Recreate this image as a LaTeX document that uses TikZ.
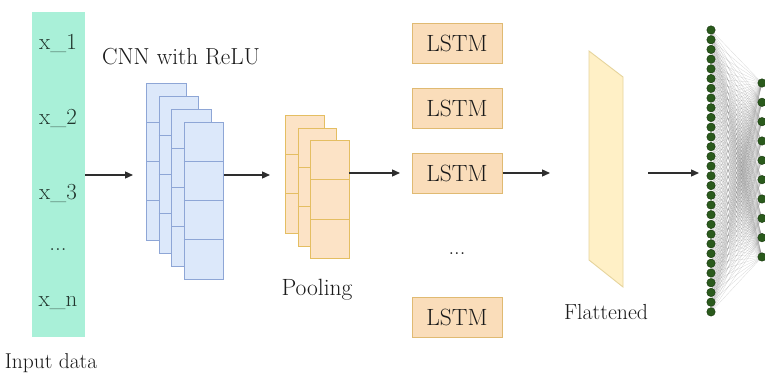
\documentclass[tikz,border=0pt]{standalone}
\usetikzlibrary{arrows.meta}
\definecolor{mint}{HTML}{A9F0D8}
\definecolor{xtext}{HTML}{22362E}
\definecolor{cnnfill}{HTML}{DCE8FA}
\definecolor{cnnline}{HTML}{8EA6D6}
\definecolor{poolfill}{HTML}{FCE3C6}
\definecolor{poolline}{HTML}{E4BE62}
\definecolor{lstmfill}{HTML}{FADDBA}
\definecolor{lstmline}{HTML}{E0BA72}
\definecolor{flatfill}{HTML}{FFF0C6}
\definecolor{flatline}{HTML}{E6D49C}
\definecolor{dotfill}{HTML}{2A5A1C}
\definecolor{dotline}{HTML}{16360C}
\definecolor{txt}{HTML}{1A1A1A}
\definecolor{arrowc}{HTML}{2E2E2E}
\newcommand{\fsz}[1]{\rmfamily\fontsize{#1}{#1}\selectfont}
\tikzset{
  lbl/.style={font=\fsz{22.5}, text=txt, inner sep=0pt},
  xl/.style={font=\fsz{23}, text=xtext, inner sep=0pt},
  inbox/.style={rectangle, fill=mint, draw=none, minimum width=53pt, minimum height=325pt, inner sep=0pt},
  cnnbox/.style={rectangle, fill=cnnfill, draw=cnnline, line width=0.9pt, minimum width=39.5pt, minimum height=157pt, inner sep=0pt, anchor=north west},
  poolbox/.style={rectangle, fill=poolfill, draw=poolline, line width=0.9pt, minimum width=38.5pt, minimum height=118pt, inner sep=0pt, anchor=north west},
  lstmbox/.style={rectangle, fill=lstmfill, draw=lstmline, line width=1pt, minimum width=90pt, minimum height=40pt, inner sep=0pt, font=\fsz{23.5}, text=txt},
  arr/.style={draw=arrowc, line width=1.3pt, -{Triangle[length=8pt,width=7pt]}},
  neuron/.style={circle, fill=dotfill, draw=dotline, line width=0.4pt, minimum size=8.5pt, inner sep=0pt},
  wire/.style={draw=gray, line width=0.3pt, opacity=0.3}
}
\begin{document}
\begin{tikzpicture}[x=1pt,y=-1pt]
\useasboundingbox (0,0) rectangle (765,383);
\fill[white] (0,0) rectangle (765,383);

% input data
\node[inbox] (in) at (58.5,174.5) {};
\node[xl] (x1) at (58,43) {x\_1};
\node[xl] (x2) at (58,118) {x\_2};
\node[xl] (x3) at (58,193) {x\_3};
\node[xl] (xd) at (58,250) {...};
\node[xl] (xn) at (58,303) {x\_n};
\node[lbl, font=\fsz{21.5}] (inlbl) at (51,363) {Input data};

% CNN stack
\node[lbl, font=\fsz{23.2}] (cnnlbl) at (181,57) {CNN with ReLU};
\foreach \i in {0,1,2,3} {
  \node[cnnbox] (cnn\i) at ({146+12.5*\i},{83+13*\i}) {};
  \foreach \k in {1,2,3}
    \draw[cnnline, line width=0.9pt] ([yshift={-39.25*\k}]cnn\i.north west) -- ([yshift={-39.25*\k}]cnn\i.north east);
}

% pooling stack
\foreach \i in {0,1,2} {
  \node[poolbox] (pool\i) at ({285+12.5*\i},{115+12.7*\i}) {};
  \foreach \k in {1,2}
    \draw[poolline, line width=0.9pt] ([yshift={-39.3*\k}]pool\i.north west) -- ([yshift={-39.3*\k}]pool\i.north east);
}
\node[lbl, font=\fsz{23.5}] (poollbl) at (317,290) {Pooling};

% LSTM boxes
\node[lstmbox] (l1) at (457,43) {LSTM};
\node[lstmbox] (l2) at (457,108) {LSTM};
\node[lstmbox] (l3) at (457,173) {LSTM};
\node[lbl] (ldots) at (457,254) {...};
\node[lstmbox] (l4) at (457,317.5) {LSTM};

% flattened
\draw[fill=flatfill, draw=flatline, line width=0.9pt] (589,51) coordinate (f1) -- (623,77) coordinate (f2) -- (623,287) coordinate (f3) -- (589,260) coordinate (f4) -- cycle;
\node[lbl, font=\fsz{21.8}] (flatlbl) at (606,312) {Flattened};

% dense layers
\foreach \j in {0,...,29}
  \coordinate (a\j) at (711,{30+9.72*\j});
\foreach \k in {0,...,9}
  \coordinate (b\k) at (762,{83+19.33*\k});
\foreach \j in {0,...,29}
  \foreach \k in {0,...,9}
    \draw[wire] (a\j) -- (b\k);
\foreach \j in {0,...,29}
  \node[neuron] (n\j) at (a\j) {};
\foreach \k in {0,...,9}
  \node[neuron] (m\k) at (b\k) {};

% arrows
\coordinate (e1) at (133,175);
\coordinate (e2) at (270,175);
\coordinate (e3) at (400,173);
\coordinate (e4) at (550,173);
\coordinate (s5) at (648,173);
\coordinate (e5) at (699,173);
\draw[arr] (in.east |- e1) -- (e1);
\draw[arr] (cnn3.east |- e2) -- (e2);
\draw[arr] (pool2.east |- e3) -- (e3);
\draw[arr] (l3.east) -- (e4);
\draw[arr] (s5) -- (e5);
\end{tikzpicture}
\end{document}
